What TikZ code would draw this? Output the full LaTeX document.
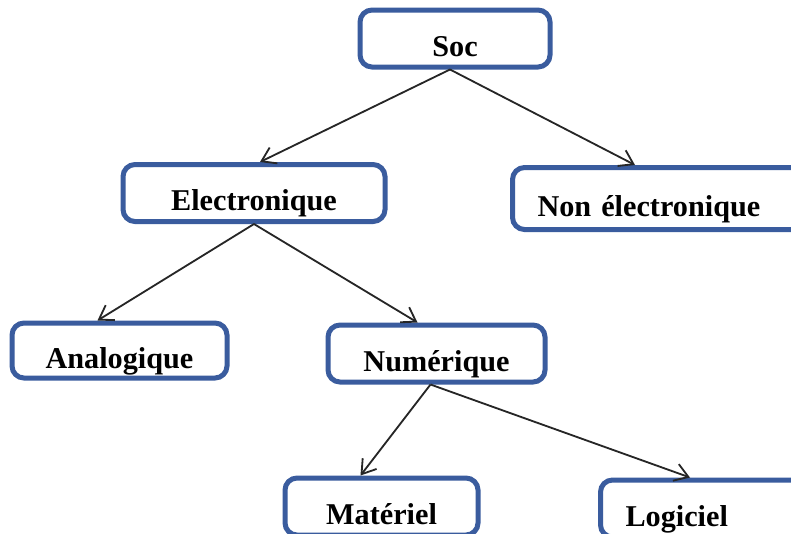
\documentclass[tikz,border=0pt]{standalone}
\usepackage{fontspec}
\setmainfont{Liberation Serif}
\usetikzlibrary{arrows.meta}
\definecolor{boxblue}{RGB}{58,92,158}
\newdimen\px \px=0.71132pt

\begin{document}
\begin{tikzpicture}[x=1\px, y=-1\px,
    every node/.style={draw=boxblue, line width=5\px, rounded corners=12\px,
                       fill=white, font=\bfseries\fontsize{21.5}{26}\selectfont,
                       minimum height=57\px, inner sep=0pt,
                       text height=25pt, text depth=0pt},   %% text sits low in the box
    padbox/.style={anchor=north west, text width=280\px, align=left,
                   inner xsep=25\px},              %% boxes cut by the page edge
    link/.style={draw=black!85, line width=1.3pt,
                 -{Straight Barb[length=9.5pt,width=12.5pt,line width=1.3pt]}}
    ]
    \clip (0,0) rectangle (791,533);
    \node (soc)     [minimum width=190\px] at (455,38.5) {Soc};          % root node
    \node (elec)    [minimum width=262\px] at (254,193)  {Electronique};
    \node (nonelec) [padbox, minimum height=62\px] at (510,165) {Non électronique};
    \node (analog)  [minimum width=215\px, minimum height=55\px] at (119.5,350.5) {Analogique};
    \node (num)     [minimum width=217\px] at (436.5,353.5) {Numérique};
    \node (mat)     [minimum width=193\px] at (381.5,506.5) {Matériel};
    \node (log)     [padbox] at (598,477.5) {Logiciel};

    \draw[link] ([xshift=-5\px]soc.south) -- ([xshift=6\px]elec.north);
    \draw[link] ([xshift=-5\px]soc.south) -- ([xshift=125\px]nonelec.north west);
    \draw[link] (elec.south) -- ([xshift=-22\px]analog.north);
    \draw[link] (elec.south) -- ([xshift=-19\px]num.north);
    \draw[link] ([xshift=-6\px]num.south) -- ([xshift=-21\px]mat.north);
    \draw[link] ([xshift=-6\px]num.south) -- ([xshift=92\px]log.north west);
\end{tikzpicture}
\end{document}
